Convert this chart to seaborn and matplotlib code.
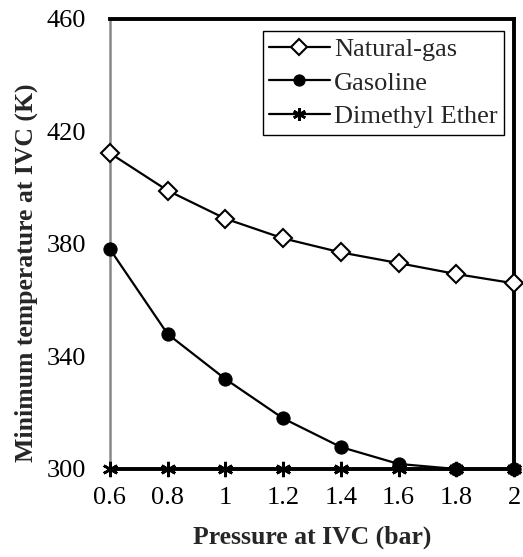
import matplotlib
matplotlib.use("Agg")
import matplotlib.pyplot as plt
import seaborn as sns
import pandas as pd

pressure = [0.6, 0.8, 1.0, 1.2, 1.4, 1.6, 1.8, 2.0]
natural_gas = [412.3, 399.0, 389.0, 382.0, 377.0, 373.2, 369.3, 366.0]
gasoline = [378.2, 348.0, 332.0, 318.0, 307.8, 301.8, 300.0, 300.0]
dme = [300.0, 300.0, 300.0, 300.0, 300.0, 300.0, 300.0, 300.0]
series_names = ["Natural-gas", "Gasoline", "Dimethyl Ether"]
x_ticks = [0.6, 0.8, 1.0, 1.2, 1.4, 1.6, 1.8, 2.0]
x_tick_labels = ["0.6", "0.8", "1", "1.2", "1.4", "1.6", "1.8", "2"]
y_ticks = [300, 340, 380, 420, 460]

sns.set_style("white")
plt.rcParams['font.family'] = ['Liberation Serif', 'DejaVu Serif']

fig = plt.figure(figsize=(5.23, 5.57), dpi=100)
ax = fig.add_axes([0.210, 0.158, 0.773, 0.808])

sns.lineplot(x=pressure, y=natural_gas, ax=ax, color="black", lw=1.6,
             marker="D", markersize=9.5, markerfacecolor="white",
             markeredgecolor="black", markeredgewidth=1.5,
             label=series_names[0], clip_on=False, zorder=4)
sns.lineplot(x=pressure, y=gasoline, ax=ax, color="black", lw=1.6,
             marker="o", markersize=9.5, markerfacecolor="black",
             markeredgecolor="black",
             label=series_names[1], clip_on=False, zorder=4)
sns.lineplot(x=pressure, y=dme, ax=ax, color="black", lw=1.6,
             marker=(6, 2, 0), markersize=11, markeredgewidth=1.9,
             markeredgecolor="black",
             label=series_names[2], clip_on=False, zorder=5)

ax.set_xlim(0.6, 2.0)
ax.set_ylim(300, 460)
ax.set_xticks(x_ticks)
ax.set_xticklabels(x_tick_labels)
ax.set_yticks(y_ticks)
ax.tick_params(axis='both', labelsize=19, colors='black')
ax.tick_params(axis='x', length=0, pad=13)
ax.tick_params(axis='y', direction='in', length=5, width=1.2, color='#888888', pad=17)

for side in ['top', 'right', 'bottom']:
    ax.spines[side].set_visible(True)
    ax.spines[side].set_color('black')
    ax.spines[side].set_linewidth(2.8)
ax.spines['left'].set_visible(True)
ax.spines['left'].set_color('#888888')
ax.spines['left'].set_linewidth(1.8)

ax.set_xlabel("Pressure at IVC (bar)", fontsize=18.5, fontweight='bold', labelpad=12)
ax.set_ylabel("Minimum temperature at IVC (K)", fontsize=18.5, fontweight='bold')
ax.yaxis.set_label_coords(-0.178, 0.436)

leg = ax.legend(loc='upper right', fontsize=19, frameon=True, fancybox=False,
                edgecolor='black', framealpha=1, handlelength=2.3,
                handletextpad=0.15, borderpad=0.25, labelspacing=0.38,
                bbox_to_anchor=(0.975, 0.973), borderaxespad=0, markerscale=0.85)
leg.get_frame().set_linewidth(1.0)

fig.savefig("out.png", dpi=100)
